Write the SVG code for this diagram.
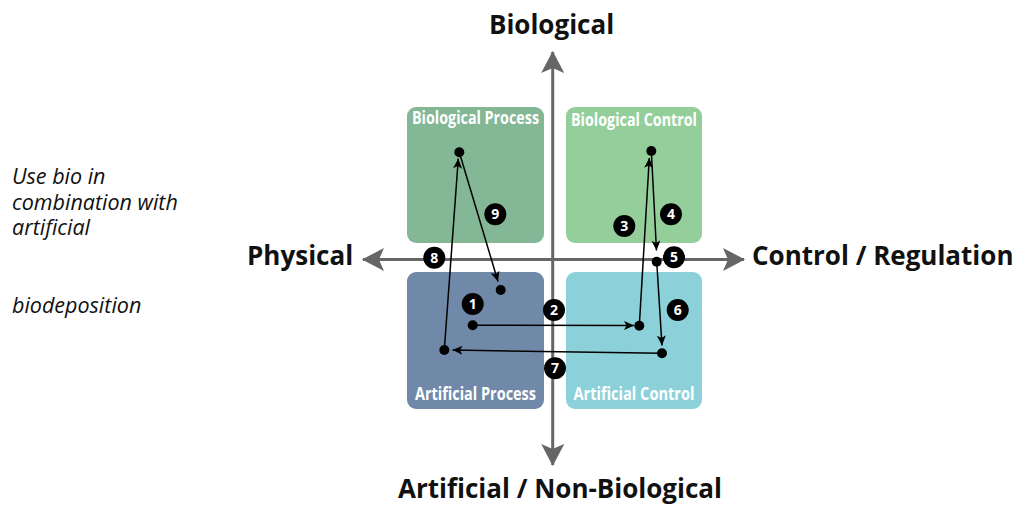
<svg xmlns="http://www.w3.org/2000/svg" width="1015" height="505" viewBox="0 0 1015 505">
<defs>
<style>
.box-label{font-family:"Open Sans","Liberation Sans",sans-serif;font-weight:700;font-size:17px;fill:#ffffff;text-anchor:middle}
.axis-label{font-family:"Open Sans","Liberation Sans",sans-serif;font-weight:700;font-size:26px;fill:#111111}
.note{font-family:"Open Sans","Liberation Sans",sans-serif;font-style:italic;font-size:21.5px;fill:#111111}
.axis{stroke:#666666;stroke-width:3;fill:none}
.conn{stroke:#000000;stroke-width:1.5;fill:none}
.dot{fill:#000000}
.badge circle{fill:#000000}
.badge text{font-family:"Open Sans","Liberation Sans",sans-serif;font-weight:700;font-size:14px;fill:#ffffff;text-anchor:middle}
</style>
<marker id="axisHead" markerUnits="userSpaceOnUse" markerWidth="22" markerHeight="23" viewBox="0 0 22 23" refX="21" refY="11.5" orient="auto-start-reverse">
<path d="M0,0 L22,11.5 L0,23 L5,11.5 Z" fill="#666666"/>
</marker>
<marker id="head" markerUnits="userSpaceOnUse" markerWidth="10" markerHeight="9" viewBox="0 0 10 9" refX="10" refY="4.5" orient="auto">
<path d="M0,0 L10,4.5 L0,9 L2.5,4.5 Z" fill="#000000"/>
</marker>
</defs>
<rect width="1015" height="505" fill="#ffffff"/>

<g id="node-biological-process">
<rect x="407" y="107" width="137" height="136" rx="9" fill="#84b796"/>
<text class="box-label" x="475.5" y="124" textLength="127" lengthAdjust="spacingAndGlyphs">Biological Process</text>
</g>
<g id="node-biological-control">
<rect x="566" y="107" width="136" height="136" rx="9" fill="#94cf9b"/>
<text class="box-label" x="634" y="126" textLength="126" lengthAdjust="spacingAndGlyphs">Biological Control</text>
</g>
<g id="node-artificial-process">
<rect x="407" y="272" width="137" height="137" rx="9" fill="#7189a9"/>
<text class="box-label" x="475.5" y="400" textLength="121" lengthAdjust="spacingAndGlyphs">Artificial Process</text>
</g>
<g id="node-artificial-control">
<rect x="566" y="272" width="136" height="137" rx="9" fill="#8cd1d9"/>
<text class="box-label" x="634" y="400" textLength="121" lengthAdjust="spacingAndGlyphs">Artificial Control</text>
</g>

<g id="axes">
<line class="axis" x1="552.7" y1="465" x2="552.7" y2="52" marker-start="url(#axisHead)" marker-end="url(#axisHead)"/>
<line class="axis" x1="363" y1="259.5" x2="744" y2="259.5" marker-start="url(#axisHead)" marker-end="url(#axisHead)"/>
</g>

<g id="axis-labels">
<text class="axis-label" x="551.5" y="34" text-anchor="middle">Biological</text>
<text class="axis-label" x="247" y="265">Physical</text>
<text class="axis-label" x="752" y="265">Control / Regulation</text>
<text class="axis-label" x="560" y="498" text-anchor="middle">Artificial / Non-Biological</text>
</g>

<g id="notes">
<text class="note" x="12" y="184">Use bio in</text>
<text class="note" x="12" y="210">combination with</text>
<text class="note" x="12" y="235">artificial</text>
<text class="note" x="12" y="313">biodeposition</text>
</g>

<g id="connectors">
<line class="conn" x1="472.7" y1="325.3" x2="634" y2="325.6" marker-end="url(#head)"/>
<line class="conn" x1="639.3" y1="325.7" x2="649.3" y2="158" marker-end="url(#head)"/>
<line class="conn" x1="651.3" y1="151" x2="656.5" y2="250.5" marker-end="url(#head)"/>
<line class="conn" x1="656.7" y1="261.7" x2="662" y2="345.5" marker-end="url(#head)"/>
<line class="conn" x1="662" y1="353.3" x2="452.5" y2="350.1" marker-end="url(#head)"/>
<line class="conn" x1="444.3" y1="350" x2="458.3" y2="158.5" marker-end="url(#head)"/>
<line class="conn" x1="459.3" y1="152.3" x2="498" y2="281.5" marker-end="url(#head)"/>
</g>

<g id="dots">
<circle class="dot" cx="459.3" cy="152.3" r="5"/>
<circle class="dot" cx="651.3" cy="151" r="5"/>
<circle class="dot" cx="500.7" cy="290" r="5"/>
<circle class="dot" cx="472.7" cy="325.3" r="5"/>
<circle class="dot" cx="639.3" cy="325.7" r="5"/>
<circle class="dot" cx="656.7" cy="261.7" r="5"/>
<circle class="dot" cx="662" cy="353.3" r="5"/>
<circle class="dot" cx="444.3" cy="350" r="5"/>
</g>

<g id="badges">
<g class="badge" id="badge-1"><circle cx="472.7" cy="304" r="11"/><text x="472.7" y="309">1</text></g>
<g class="badge" id="badge-2"><circle cx="554" cy="310" r="11"/><text x="554" y="315">2</text></g>
<g class="badge" id="badge-3"><circle cx="624.3" cy="226" r="11"/><text x="624.3" y="231">3</text></g>
<g class="badge" id="badge-4"><circle cx="671" cy="214.3" r="11"/><text x="671" y="219.3">4</text></g>
<g class="badge" id="badge-5"><circle cx="674" cy="257.3" r="11"/><text x="674" y="262.3">5</text></g>
<g class="badge" id="badge-6"><circle cx="677.7" cy="310" r="11"/><text x="677.7" y="315">6</text></g>
<g class="badge" id="badge-7"><circle cx="555" cy="368.3" r="11"/><text x="555" y="373.3">7</text></g>
<g class="badge" id="badge-8"><circle cx="434.3" cy="257.7" r="11"/><text x="434.3" y="262.7">8</text></g>
<g class="badge" id="badge-9"><circle cx="495.3" cy="214.3" r="11"/><text x="495.3" y="219.3">9</text></g>
</g>
</svg>
